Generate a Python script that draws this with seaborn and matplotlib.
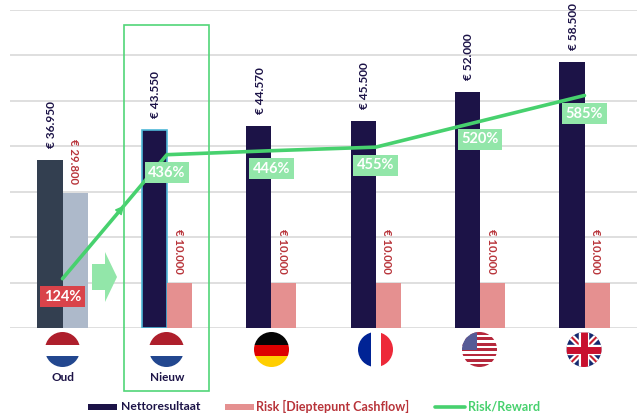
import matplotlib
matplotlib.use("Agg")
import matplotlib.pyplot as plt
from matplotlib.lines import Line2D
from matplotlib.patches import Circle, Polygon, Rectangle
import seaborn as sns
import pandas as pd

categories = ["Oud", "Nieuw", "Duitsland", "Frankrijk", "VS", "VK"]
tick_labels = ["Oud", "Nieuw", "", "", "", ""]
nettoresultaat = [36950, 43550, 44570, 45500, 52000, 58500]
risk = [29800, 10000, 10000, 10000, 10000, 10000]
risk_reward = [124, 436, 446, 455, 520, 585]
netto_labels = ["€ 36.950", "€ 43.550", "€ 44.570", "€ 45.500", "€ 52.000", "€ 58.500"]
risk_labels = ["€ 29.800", "€ 10.000", "€ 10.000", "€ 10.000", "€ 10.000", "€ 10.000"]
rr_labels = ["124%", "436%", "446%", "455%", "520%", "585%"]

NAVY = "#1c1347"
PINK = "#e59090"
RED_TXT = "#b8343a"
GREEN = "#47d16e"
LIGHT_GREEN = "#92e6a9"

sns.set_theme(style="white")
plt.rcParams['font.family'] = ['Lato', 'DejaVu Sans']

df = pd.DataFrame({
    "cat": categories * 2,
    "value": nettoresultaat + risk,
    "serie": ["Nettoresultaat"] * 6 + ["Risk"] * 6,
})

fig = plt.figure(figsize=(6.41, 4.16), dpi=100)
ax = fig.add_axes([10.3 / 641, 88 / 416, 626.4 / 641, 318 / 416])
sns.barplot(data=df, x="cat", y="value", hue="serie", palette=[NAVY, PINK],
            width=0.48, saturation=1, legend=False, linewidth=0, ax=ax, zorder=3)
ax.set_ylim(0, 70000)
ax.set_xlim(-0.5, 5.5)
ax.set_yticks(range(0, 70001, 10000))
ax.set_yticklabels([])
ax.set_xlabel("")
ax.set_ylabel("")
ax.set_xticks(range(6))
ax.set_xticklabels(tick_labels, fontsize=8.5, fontweight="bold", color=NAVY)
ax.tick_params(axis="x", length=0, pad=32)
ax.tick_params(axis="y", length=0)
ax.grid(axis="y", color="#dcdcdc", lw=1.3, zorder=0)
ax.set_axisbelow(True)
sns.despine(ax=ax, left=True, bottom=True)

netto_bars = ax.containers[0]
risk_bars = ax.containers[1]
netto_bars[0].set_facecolor("#333f50")
risk_bars[0].set_facecolor("#adb9ca")
netto_bars[1].set_edgecolor("#4fb8d8")
netto_bars[1].set_linewidth(1.2)

for b, lab in zip(netto_bars, netto_labels):
    ax.annotate(lab, (b.get_x() + b.get_width() / 2, b.get_height()),
                xytext=(1, 8.5), textcoords="offset points", rotation=90,
                ha="center", va="bottom", fontsize=8.6, fontweight="bold", color=NAVY)
# risk labels read downwards in the original
for b, lab in zip(risk_bars, risk_labels):
    ax.annotate(lab, (b.get_x() + b.get_width() / 2, b.get_height()),
                xytext=(-1, 6.5), textcoords="offset points", rotation=-90,
                ha="center", va="bottom", fontsize=8.2, fontweight="bold", color=RED_TXT)

# line on a second axis
ax2 = ax.twinx()
ax2.set_ylim(0, 800)
ax2.set_yticks([])
ax2.set_ylabel("")
ax2.grid(False)
sns.despine(ax=ax2, left=True, bottom=True, right=True)
sns.lineplot(x=list(range(6)), y=risk_reward, color=GREEN, lw=2.6, ax=ax2,
             solid_capstyle="round", zorder=5)


def on_first_segment(t):
    return (t, risk_reward[0] + t * (risk_reward[1] - risk_reward[0]))


ax2.annotate("", xy=on_first_segment(0.59), xytext=on_first_segment(0.45),
             arrowprops=dict(arrowstyle="-|>", color=GREEN, lw=1, mutation_scale=13,
                             shrinkA=0, shrinkB=0), zorder=5)

for i, (v, lab) in enumerate(zip(risk_reward, rr_labels)):
    box = "#d9434a" if i == 0 else LIGHT_GREEN
    ax2.annotate(lab, (i, v), xytext=(0, -13), textcoords="offset points",
                 ha="center", va="center", fontsize=10.5, fontweight="bold", color="white",
                 bbox=dict(boxstyle="square,pad=0.25", fc=box, ec="none"), zorder=6)

# overlay in pixel coordinates for the decoration
ov = fig.add_axes([0, 0, 1, 1], zorder=10)
ov.set_xlim(0, 641)
ov.set_ylim(416, 0)
ov.axis("off")
ov.patch.set_alpha(0)

ov.add_patch(Rectangle((123.5, 24.5), 85.5, 366, fill=False, ec="#52d678", lw=1.2))
ov.add_patch(Polygon([(92, 264), (105, 264), (105, 252), (117, 277), (105, 302), (105, 290), (92, 290)],
                     fc=LIGHT_GREEN, ec="none"))

FLAG_Y = 349.5
FLAG_R = 17.5


def flag(cx, bands, base="none"):
    c = Circle((cx, FLAG_Y), FLAG_R, fc=base, ec="none")
    ov.add_patch(c)
    for (x0, y0, w, h, col) in bands:
        r = Rectangle((cx + x0, FLAG_Y + y0), w, h, fc=col, ec="none")
        ov.add_patch(r)
        r.set_clip_path(c)
    return c


nl = [(-18, -18, 36, 13, "#ae1f2c"), (-18, -5, 36, 11, "#ffffff"), (-18, 6, 36, 12, "#22478f")]
flag(62.5, nl)
flag(166.5, nl)
flag(271.5, [(-18, -18, 36, 13, "#050505"), (-18, -5, 36, 11, "#dd0000"), (-18, 6, 36, 12, "#ffce00")])
flag(375.5, [(-18, -18, 13, 36, "#002395"), (-5, -18, 10, 36, "#ffffff"), (5, -18, 13, 36, "#ed2939")])

# usa
us_bands = [(-18, -17.5 + k * 5.4, 36, 2.7, "#b5283c") for k in range(7)]
us_bands.append((-18, -18, 15.5, 18.5, "#565b96"))
flag(479.5, us_bands, base="#ffffff")

# uk
uk = flag(584, [], base="#14286e")
for (x0, y0, x1, y1, col, w) in [(-18, -18, 18, 18, "white", 4.5), (-18, 18, 18, -18, "white", 4.5),
                                 (-18, -18, 18, 18, "#c8202f", 1.5), (-18, 18, 18, -18, "#c8202f", 1.5),
                                 (0, -18, 0, 18, "white", 7.5), (-18, 0, 18, 0, "white", 7.5),
                                 (0, -18, 0, 18, "#c8102e", 5.0), (-18, 0, 18, 0, "#c8102e", 5.0)]:
    ln = Line2D([584 + x0, 584 + x1], [FLAG_Y + y0, FLAG_Y + y1], color=col, lw=w, solid_capstyle="butt")
    ov.add_line(ln)
    ln.set_clip_path(uk)

# legend
ov.add_patch(Rectangle((88, 403.5), 29, 6.5, fc=NAVY, ec="none"))
ov.text(121, 406.5, "Nettoresultaat", fontsize=8.7, fontweight="bold", color=NAVY, va="center")
ov.add_patch(Rectangle((224.5, 403.5), 29, 6.5, fc=PINK, ec="none"))
ov.text(256.5, 406.5, "Risk [Dieptepunt Cashflow]", fontsize=9, fontweight="bold", color=RED_TXT, va="center")
ov.add_line(Line2D([435, 465], [406.5, 406.5], color=GREEN, lw=2.6, solid_capstyle="round"))
ov.text(468, 406.5, "Risk/Reward", fontsize=9, fontweight="bold", color=GREEN, va="center")

fig.savefig("out.png", dpi=100)
